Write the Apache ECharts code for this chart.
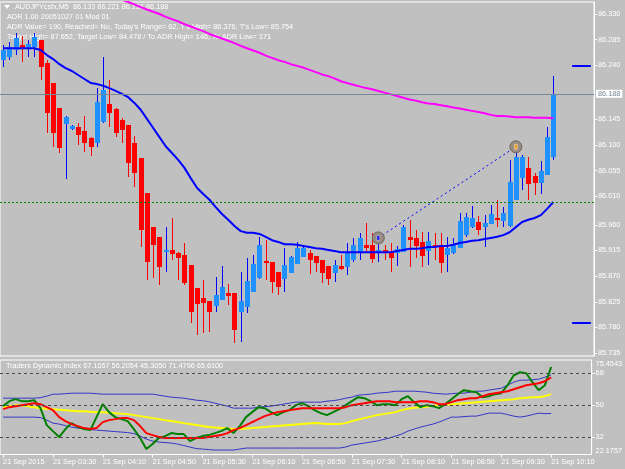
<!DOCTYPE html>
<html>
<head>
<meta charset="utf-8">
<title>AUDJPYcsfx,M5</title>
<script src="https://cdn.jsdelivr.net/npm/echarts@6/dist/echarts.min.js"></script>
<style>
	html, body { margin: 0; padding: 0; background: #c0c0c0; }
	#chart { width: 625px; height: 469px; }
</style>
</head>
<body>
<div id="chart"></div>
<script>
// -------------------------
// AUDJPY M5 chart + Traders Dynamic Index (ECharts)
// -------------------------

// Colors / fonts
const fgColor = '#ffffff';
const bullBody = '#1e90ff', bullWick = '#0000ff';
const bearBody = '#ff0000', bearWick = '#ff0000';
const fontFamily = '"Liberation Sans", Arial, sans-serif';
const fontSize = 7.3;

// Header texts
const headerLines = [
	'AUDJPYcsfx,M5  86.133 86.221 86.131 86.188',
	'ADR 1.00 20051027 01 Mod 01',
	"ADR Value= 190, Reached= No, Today's Range= 62, T's High= 86.376, T's Low= 85.754",
	'Target High= 87.652, Target Low= 84.478 / To ADR High= 146, To ADR Low= 171'
];
const tdiTitle = 'Traders Dynamic Index 67.1057 56.2054 45.3050 71.4796 65.6100';

// ----------------------
// Data
// ----------------------

// Time axis labels (every 8 bars)
const timeLabels = ['21 Sep 2015', '21 Sep 03:30', '21 Sep 04:10', '21 Sep 04:50', '21 Sep 05:30', '21 Sep 06:10',
	'21 Sep 06:50', '21 Sep 07:30', '21 Sep 08:10', '21 Sep 08:50', '21 Sep 09:30', '21 Sep 10:10'];

// Price axis labels
const priceTicks = [85.735, 85.780, 85.825, 85.870, 85.915, 85.960, 86.010, 86.055, 86.100, 86.145, 86.240, 86.285, 86.330];
const tdiTicks = [22.1757, 32, 50, 68, 75.4543];
const tdiLevels = [32, 50, 68];

// Horizontal levels
const bidPrice = 86.188;
const roundLevel = 86.000;
const levelHigh = 86.240;
const levelLow = 85.789;

// Trade arrows (bar index, price)
const tradeBars = [60, 82];
const tradePrices = [85.937, 86.097];

// Candles: [open, close, low, high]
const candles = [
	[86.249, 86.267, 86.237, 86.276], [86.255, 86.272, 86.249, 86.281], [86.267, 86.288, 86.258, 86.297],
	[86.276, 86.269, 86.246, 86.291], [86.272, 86.277, 86.255, 86.284], [86.272, 86.290, 86.255, 86.297],
	[86.284, 86.237, 86.214, 86.284], [86.244, 86.156, 86.121, 86.249], [86.209, 86.121, 86.097, 86.209],
	[86.165, 86.095, 86.086, 86.165], [86.137, 86.149, 86.041, 86.151], [86.128, 86.133, 86.126, 86.135],
	[86.132, 86.118, 86.100, 86.139], [86.125, 86.104, 86.088, 86.151], [86.112, 86.097, 86.081, 86.114],
	[86.104, 86.176, 86.097, 86.200], [86.141, 86.197, 86.139, 86.255], [86.172, 86.156, 86.132, 86.214],
	[86.163, 86.121, 86.114, 86.165], [86.144, 86.126, 86.104, 86.147], [86.135, 86.069, 86.044, 86.135],
	[86.104, 86.051, 86.026, 86.116], [86.077, 85.951, 85.921, 86.077], [86.016, 85.895, 85.863, 86.016],
	[85.956, 85.925, 85.867, 85.956], [85.939, 85.886, 85.854, 85.939], [85.912, 85.916, 85.877, 85.956],
	[85.916, 85.909, 85.898, 85.972], [85.911, 85.902, 85.863, 85.912], [85.907, 85.858, 85.854, 85.928],
	[85.890, 85.807, 85.788, 85.890], [85.849, 85.821, 85.767, 85.849], [85.832, 85.823, 85.770, 85.863],
	[85.826, 85.807, 85.772, 85.826], [85.818, 85.837, 85.807, 85.868], [85.828, 85.851, 85.828, 85.888],
	[85.840, 85.835, 85.819, 85.856], [85.840, 85.775, 85.753, 85.840], [85.807, 85.826, 85.754, 85.877],
	[85.816, 85.861, 85.805, 85.902], [85.842, 85.891, 85.842, 85.907], [85.867, 85.925, 85.865, 85.939],
	[85.897, 85.893, 85.863, 85.933], [85.895, 85.860, 85.840, 85.895], [85.877, 85.851, 85.837, 85.877],
	[85.865, 85.890, 85.842, 85.919], [85.875, 85.904, 85.875, 85.905], [85.891, 85.919, 85.891, 85.930],
	[85.904, 85.919, 85.904, 85.925], [85.911, 85.898, 85.874, 85.916], [85.905, 85.893, 85.877, 85.905],
	[85.898, 85.875, 85.858, 85.898], [85.888, 85.865, 85.854, 85.888], [85.875, 85.890, 85.860, 85.898],
	[85.888, 85.883, 85.881, 85.907], [85.886, 85.912, 85.872, 85.928], [85.898, 85.925, 85.895, 85.937],
	[85.912, 85.937, 85.898, 85.946], [85.925, 85.919, 85.912, 85.963], [85.925, 85.900, 85.893, 85.946],
	[85.912, 85.916, 85.895, 85.930], [85.916, 85.911, 85.898, 85.925], [85.912, 85.902, 85.877, 85.928],
	[85.911, 85.918, 85.888, 85.923], [85.912, 85.956, 85.912, 85.960], [85.939, 85.933, 85.886, 85.969],
	[85.937, 85.923, 85.902, 85.951], [85.930, 85.905, 85.886, 85.947], [85.914, 85.932, 85.890, 85.947],
	[85.925, 85.921, 85.898, 85.946], [85.925, 85.893, 85.875, 85.946], [85.907, 85.919, 85.877, 85.939],
	[85.911, 85.926, 85.909, 85.937], [85.919, 85.967, 85.919, 85.981], [85.942, 85.974, 85.939, 85.981],
	[85.956, 85.972, 85.954, 85.993], [85.965, 85.951, 85.942, 85.976], [85.956, 85.963, 85.921, 85.977],
	[85.961, 85.979, 85.961, 85.995], [85.972, 85.969, 85.956, 86.004], [85.967, 85.981, 85.956, 85.991],
	[85.958, 86.035, 85.956, 86.074], [86.004, 86.079, 86.004, 86.088], [86.042, 86.079, 86.021, 86.083],
	[86.060, 86.032, 86.004, 86.079], [86.046, 86.033, 86.012, 86.051], [86.033, 86.055, 86.014, 86.072],
	[86.048, 86.114, 86.048, 86.132], [86.079, 86.188, 86.074, 86.221]
];

// Fast MA (blue)
const maFast = [
	86.270, 86.270, 86.270, 86.270, 86.270, 86.270,
	86.267, 86.258, 86.251, 86.242, 86.235, 86.230, 86.223, 86.216, 86.209, 86.207,
	86.204, 86.200, 86.195, 86.190, 86.184, 86.174, 86.162, 86.146, 86.130, 86.114,
	86.098, 86.086, 86.074, 86.060, 86.042, 86.025, 86.014, 86.004, 85.991, 85.979,
	85.969, 85.958, 85.949, 85.946, 85.946, 85.944, 85.939, 85.933, 85.930, 85.926,
	85.926, 85.925, 85.923, 85.921, 85.919, 85.918, 85.916, 85.914, 85.912, 85.912,
	85.912, 85.912, 85.912, 85.912, 85.912, 85.912, 85.912, 85.914, 85.916, 85.918,
	85.918, 85.919, 85.921, 85.921, 85.923, 85.923, 85.925, 85.928, 85.930, 85.932,
	85.933, 85.935, 85.937, 85.939, 85.942, 85.947, 85.956, 85.965, 85.969, 85.972,
	85.977, 85.988, 86.000
];

// Slow MA (magenta), first bars are above the visible range
const maSlow = [
	null, null, null, null, null, null, null, null, null, null, null, null, null, null, null, null, null, null,
	86.360, 86.355, 86.351, 86.347, 86.342, 86.338, 86.334, 86.330, 86.325, 86.321,
	86.317, 86.312, 86.308, 86.304, 86.300, 86.295, 86.291, 86.287, 86.283, 86.279,
	86.274, 86.270, 86.266, 86.262, 86.257, 86.253, 86.249, 86.246, 86.242, 86.239,
	86.236, 86.232, 86.228, 86.224, 86.221, 86.217, 86.212, 86.209, 86.206, 86.203,
	86.200, 86.198, 86.195, 86.192, 86.189, 86.186, 86.183, 86.180, 86.178, 86.175,
	86.173, 86.172, 86.170, 86.168, 86.166, 86.164, 86.162, 86.160, 86.158, 86.156,
	86.153, 86.151, 86.151, 86.150, 86.149, 86.149, 86.149, 86.148, 86.148, 86.148,
	86.147
];

// TDI buffers
const tdiUpper = [
	53.94, 53.94, 53.94, 53.94, 53.94, 53.94, 54.22, 55.06, 56.19, 56.19,
	56.47, 56.75, 56.75, 56.75, 56.75, 56.47, 56.19, 56.19, 56.19, 56.19,
	56.19, 56.19, 56.19, 56.19, 56.19, 55.63, 55.06, 54.50, 54.22, 53.94,
	53.37, 52.81, 52.53, 51.97, 51.12, 50.28, 49.44, 48.31, 48.31, 48.31,
	48.31, 48.87, 49.16, 49.44, 50.00, 50.56, 51.12, 51.69, 51.69, 51.69,
	51.69, 51.69, 52.25, 52.53, 53.09, 53.94, 54.50, 55.63, 55.91, 56.19,
	56.75, 57.03, 57.31, 57.87, 57.87, 57.87, 57.87, 57.59, 57.31, 56.75,
	56.47, 56.19, 56.47, 56.75, 56.75, 57.31, 57.87, 57.87, 58.44, 59.00,
	59.56, 61.25, 62.94, 64.06, 64.06, 64.34, 64.63, 65.75, 67.11
];
const tdiLower = [
	43.25, 43.25, 43.25, 43.25, 43.25, 43.25, 42.97, 41.56, 39.87, 39.31,
	38.47, 37.62, 37.06, 36.78, 36.22, 35.94, 35.66, 35.37, 35.09, 34.81,
	34.53, 33.97, 32.56, 30.87, 29.75, 29.19, 28.90, 28.62, 28.06, 27.22,
	26.37, 25.53, 25.25, 24.97, 24.69, 24.69, 24.69, 24.69, 25.25, 25.81,
	25.81, 25.81, 25.81, 25.81, 25.81, 25.81, 25.81, 25.81, 25.81, 25.81,
	25.81, 25.81, 25.81, 25.81, 25.81, 26.37, 27.50, 28.06, 28.62, 29.19,
	29.75, 30.59, 31.44, 32.56, 33.69, 35.37, 36.50, 37.62, 38.47, 39.31,
	40.44, 41.84, 43.25, 43.25, 43.53, 43.81, 43.81, 44.65, 45.50, 45.50,
	45.50, 44.65, 43.81, 43.25, 43.81, 44.65, 45.50, 45.22, 45.31
];
const tdiBase = [
	48.87, 49.44, 50.00, 50.00, 49.44, 48.87, 48.31, 48.03, 47.75, 47.47,
	47.19, 46.91, 46.62, 46.62, 46.34, 46.06, 46.06, 45.78, 45.50, 45.22,
	44.94, 44.37, 43.81, 43.25, 42.69, 42.12, 41.56, 41.00, 40.44, 39.87,
	39.31, 38.75, 38.19, 37.62, 37.34, 37.06, 36.78, 36.50, 36.50, 36.78,
	37.06, 37.34, 37.62, 37.91, 38.19, 38.47, 38.75, 39.03, 39.31, 39.59,
	39.87, 39.59, 39.31, 39.31, 39.31, 39.87, 41.00, 41.84, 42.69, 43.53,
	44.37, 44.94, 45.50, 46.06, 47.19, 48.03, 48.59, 48.87, 49.16, 49.72,
	50.00, 50.28, 50.56, 50.84, 51.12, 51.41, 51.69, 51.97, 52.25, 52.53,
	52.81, 53.09, 53.37, 53.94, 54.22, 54.50, 54.50, 55.06, 56.21
];
const tdiRsi = [
	49.44, 52.25, 53.37, 52.25, 52.25, 52.81, 48.31, 38.75, 35.37, 32.00,
	36.50, 39.87, 37.62, 36.50, 35.94, 43.25, 50.56, 46.06, 43.25, 42.12,
	41.00, 36.50, 31.44, 25.25, 28.06, 31.44, 32.56, 34.25, 33.69, 33.69,
	29.75, 31.44, 32.56, 33.12, 34.25, 35.37, 37.06, 34.25, 38.19, 43.25,
	46.06, 48.87, 48.31, 46.06, 44.37, 46.06, 47.19, 50.00, 51.12, 49.44,
	47.19, 45.50, 44.37, 46.06, 47.75, 50.00, 52.25, 54.50, 53.94, 52.25,
	50.00, 50.56, 50.56, 50.00, 53.37, 55.06, 51.69, 48.87, 50.00, 49.44,
	48.31, 50.56, 53.37, 56.19, 58.44, 57.87, 57.31, 54.50, 55.06, 56.19,
	56.75, 61.25, 66.87, 68.56, 68.00, 62.94, 58.44, 61.25, 71.48
];
const tdiSignal = [
	47.75, 48.87, 49.44, 50.00, 50.56, 51.12, 50.56, 48.87, 47.19, 43.25,
	41.00, 39.31, 38.19, 37.06, 36.50, 37.06, 40.44, 41.56, 42.12, 42.69,
	42.69, 41.56, 38.19, 34.25, 33.12, 32.00, 31.44, 31.44, 31.44, 31.44,
	31.44, 31.44, 31.44, 32.00, 32.56, 33.12, 34.25, 35.94, 37.06, 38.75,
	40.44, 42.12, 43.81, 44.94, 46.06, 46.62, 47.19, 47.75, 48.31, 48.31,
	48.31, 48.31, 48.31, 48.31, 48.31, 48.87, 50.00, 50.56, 51.12, 51.69,
	52.25, 52.25, 52.25, 51.69, 51.69, 51.69, 51.69, 52.25, 52.25, 51.69,
	50.56, 50.56, 51.69, 52.81, 53.37, 53.94, 53.94, 55.06, 56.19, 56.75,
	57.31, 57.87, 59.00, 60.12, 61.25, 61.81, 62.37, 63.50, 65.61
];

// ----------------------
// Helper functions
// ----------------------

// M5 bar times from 02:50, plus empty slots for the right shift
const slotCount = 95;
const barTimes = [];
for (let i = 0; i < slotCount; i++) {
	const m = 170 + i * 5;
	barTimes.push(String(Math.floor(m / 60)).padStart(2, '0') + ':' + String(m % 60).padStart(2, '0'));
}

const labelEvery = (index) => index % 8 === 0 && index / 8 < timeLabels.length;

// Candle: wick + body drawn through the axis scales
function renderCandle(params, api) {
	const idx = api.value(0);
	const open = api.value(1), close = api.value(2), low = api.value(3), high = api.value(4);
	const pO = api.coord([idx, open]), pC = api.coord([idx, close]);
	const pL = api.coord([idx, low]), pH = api.coord([idx, high]);
	const cx = Math.round(pO[0]);
	const bull = close >= open;
	const top = Math.round(Math.min(pO[1], pC[1]));
	const bot = Math.round(Math.max(pO[1], pC[1]));
	return {
		type: 'group',
		children: [
			{
				type: 'line',
				shape: { x1: cx + 0.5, y1: Math.round(pH[1]), x2: cx + 0.5, y2: Math.round(pL[1]) },
				style: { stroke: bull ? bullWick : bearWick, lineWidth: 1 }
			},
			{
				type: 'rect',
				shape: { x: cx - 2, y: top, width: 5, height: Math.max(1, bot - top) },
				style: { fill: bull ? bullBody : bearBody }
			}
		]
	};
}

function lineSeries(name, data, color, width, xi, yi, z) {
	return {
		name, type: 'line', data, xAxisIndex: xi, yAxisIndex: yi,
		showSymbol: false, symbol: 'none', silent: true, z: z || 3,
		lineStyle: { color, width }
	};
}

const textStyle = { color: fgColor, fontSize, fontFamily };
const font = `${fontSize}px ${fontFamily}`;

// ----------------------
// Chart
// ----------------------
const chart = echarts.init(document.getElementById('chart'), null, { renderer: 'canvas' });

const option = {
	animation: false,
	backgroundColor: '#c0c0c0',
	grid: [
		{ left: 0, right: 31, top: 2, height: 354, show: true, borderColor: fgColor, borderWidth: 1 },
		{ left: 0, right: 31, top: 360, height: 94.5, show: true, borderColor: fgColor, borderWidth: 1 }
	],
	xAxis: [
		{ type: 'category', gridIndex: 0, data: barTimes, boundaryGap: true, show: false },
		{
			type: 'category', gridIndex: 1, data: barTimes, boundaryGap: true,
			axisLine: { show: false },
			axisTick: { show: true, alignWithLabel: true, length: 3, interval: labelEvery, lineStyle: { color: fgColor } },
			axisLabel: {
				...textStyle, interval: labelEvery, align: 'left', margin: 4,
				formatter: (v, i) => timeLabels[i / 8]
			}
		}
	],
	yAxis: [
		{
			type: 'value', gridIndex: 0, position: 'right', min: 85.7298, max: 86.3511,
			splitLine: { show: false },
			axisLine: { show: true, lineStyle: { color: fgColor } },
			axisTick: { show: true, length: 3, customValues: priceTicks, lineStyle: { color: fgColor } },
			axisLabel: { ...textStyle, margin: 4, customValues: priceTicks, formatter: v => v.toFixed(3) }
		},
		{
			type: 'value', gridIndex: 1, position: 'right', min: 22.1757, max: 75.4543,
			splitLine: { show: false },
			axisLine: { show: true, lineStyle: { color: fgColor } },
			axisTick: { show: true, length: 3, customValues: tdiLevels, lineStyle: { color: fgColor } },
			axisLabel: {
				...textStyle, margin: 4, customValues: tdiTicks,
				verticalAlignMinLabel: 'bottom', verticalAlignMaxLabel: 'top',
				formatter: v => String(v)
			}
		}
	],
	graphic: [
		{ type: 'polygon', shape: { points: [[4, 5], [10, 5], [7, 9]] }, style: { fill: fgColor } },
		...headerLines.map((t, i) => ({
			type: 'text', x: i === 0 ? 15 : 7, y: 7 + i * 10, silent: true,
			style: { text: t, fill: fgColor, font, verticalAlign: 'middle' }
		})),
		{
			type: 'text', x: 6, y: 366, silent: true,
			style: { text: tdiTitle, fill: fgColor, font, verticalAlign: 'middle' }
		}
	],
	series: [
		{
			name: 'levels', type: 'line', data: [], xAxisIndex: 0, yAxisIndex: 0, z: 1,
			markLine: {
				symbol: 'none', silent: true, animation: false,
				data: [
					{
						yAxis: bidPrice,
						lineStyle: { color: '#778899', width: 1, type: 'solid' },
						label: {
							show: true, position: 'end', distance: 2, formatter: bidPrice.toFixed(3),
							backgroundColor: '#ffffff', color: '#778899', padding: [1, 2, 0, 2],
							fontSize, fontFamily
						}
					},
					{
						yAxis: roundLevel,
						lineStyle: { color: '#008000', width: 1, type: [2, 2] },
						label: { show: false }
					},
					[
						{ coord: [91, levelHigh], lineStyle: { color: '#0000ff', width: 2, type: 'solid' }, label: { show: false } },
						{ coord: [94, levelHigh] }
					],
					[
						{ coord: [91, levelLow], lineStyle: { color: '#0000ff', width: 2, type: 'solid' }, label: { show: false } },
						{ coord: [94, levelLow] }
					]
				]
			}
		},
		{
			name: 'candles', type: 'custom', xAxisIndex: 0, yAxisIndex: 0, z: 2,
			renderItem: renderCandle,
			encode: { x: 0, y: [1, 2, 3, 4] },
			data: candles.map((c, i) => [i, c[0], c[1], c[2], c[3]])
		},
		lineSeries('MA fast', maFast, '#0000ff', 2, 0, 0),
		lineSeries('MA slow', maSlow, '#ff00ff', 2, 0, 0),
		{
			name: 'trade', type: 'line', xAxisIndex: 0, yAxisIndex: 0, z: 5, silent: true,
			data: tradeBars.map((b, i) => [b, tradePrices[i]]),
			symbol: 'circle', symbolSize: 12, showSymbol: true, showAllSymbol: true,
			lineStyle: { color: '#0000ff', width: 1, type: [2, 3] },
			itemStyle: { color: '#968c82', borderColor: '#6e665e', borderWidth: 1 }
		},
		{
			name: 'trade marks', type: 'scatter', xAxisIndex: 0, yAxisIndex: 0, z: 6, silent: true,
			data: tradeBars.map((b, i) => [b, tradePrices[i]]),
			symbol: 'rect', symbolSize: [3, 5],
			itemStyle: { color: (p) => p.dataIndex === 0 ? '#0000ff' : '#ffa500', borderColor: '#ffffff', borderWidth: 0.5 }
		},
		{
			...lineSeries('VB High', tdiUpper, '#3535c8', 1, 1, 1),
			markLine: {
				symbol: 'none', silent: true, animation: false, label: { show: false },
				lineStyle: { color: '#4a4a4a', width: 1, type: [3, 3] },
				data: tdiLevels.map(v => ({ yAxis: v }))
			}
		},
		lineSeries('VB Low', tdiLower, '#3535c8', 1, 1, 1),
		lineSeries('Market Base', tdiBase, '#ffff00', 2, 1, 1),
		lineSeries('RSI Price', tdiRsi, '#008000', 2, 1, 1),
		lineSeries('Trade Signal', tdiSignal, '#ff0000', 2, 1, 1)
	]
};

chart.setOption(option);
</script>
</body>
</html>
